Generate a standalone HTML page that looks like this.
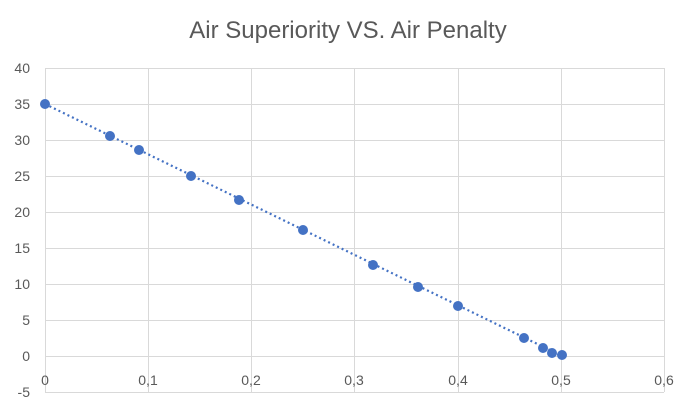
<!DOCTYPE html>
<html><head><style>body{margin:0;background:#fff}</style></head><body>
<svg width="687" height="404" xmlns="http://www.w3.org/2000/svg" font-family="Liberation Sans, sans-serif">
<rect width="687" height="404" fill="#fff"/>
<text x="348" y="38" text-anchor="middle" font-size="24" fill="#595959">Air Superiority VS. Air Penalty</text>
<g stroke="#d9d9d9" stroke-width="1">
<line x1="45" y1="68.5" x2="664" y2="68.5"/><line x1="45" y1="104.5" x2="664" y2="104.5"/>
<line x1="45" y1="140.5" x2="664" y2="140.5"/><line x1="45" y1="176.5" x2="664" y2="176.5"/>
<line x1="45" y1="212.5" x2="664" y2="212.5"/><line x1="45" y1="248.5" x2="664" y2="248.5"/>
<line x1="45" y1="284.5" x2="664" y2="284.5"/><line x1="45" y1="320.5" x2="664" y2="320.5"/>
<line x1="45" y1="356.5" x2="664" y2="356.5"/><line x1="45" y1="392.5" x2="664" y2="392.5"/>
<line x1="45.5" y1="68" x2="45.5" y2="392"/><line x1="148.5" y1="68" x2="148.5" y2="392"/>
<line x1="251.5" y1="68" x2="251.5" y2="392"/><line x1="354.5" y1="68" x2="354.5" y2="392"/>
<line x1="458.5" y1="68" x2="458.5" y2="392"/><line x1="561.5" y1="68" x2="561.5" y2="392"/>
<line x1="664.5" y1="68" x2="664.5" y2="392"/>
</g>
<g font-size="14" fill="#595959" text-anchor="end">
<text x="30" y="73">40</text><text x="30" y="109">35</text><text x="30" y="145">30</text>
<text x="30" y="181">25</text><text x="30" y="217">20</text><text x="30" y="253">15</text>
<text x="30" y="289">10</text><text x="30" y="325">5</text><text x="30" y="361">0</text>
<text x="30" y="397">-5</text>
</g>
<g font-size="14" fill="#595959" text-anchor="middle">
<text x="45" y="385">0</text><text x="148" y="385">0,1</text><text x="251" y="385">0,2</text>
<text x="354" y="385">0,3</text><text x="458" y="385">0,4</text><text x="561" y="385">0,5</text>
<text x="664" y="385">0,6</text>
</g>
<line x1="45" y1="104" x2="562" y2="356" stroke="#4472c4" stroke-width="2.2" stroke-dasharray="2,3"/>
<g fill="#4472c4">
<circle cx="45" cy="104" r="5"/><circle cx="110" cy="136" r="5"/><circle cx="139" cy="150" r="5"/>
<circle cx="191" cy="176" r="5"/><circle cx="239" cy="200" r="5"/><circle cx="303" cy="230" r="5"/>
<circle cx="373" cy="265" r="5"/><circle cx="418" cy="287" r="5"/><circle cx="458" cy="306" r="5"/>
<circle cx="524" cy="338" r="5"/><circle cx="543" cy="348" r="5"/><circle cx="552" cy="353" r="5"/>
<circle cx="562" cy="355" r="5"/>
</g>
</svg>
</body></html>
